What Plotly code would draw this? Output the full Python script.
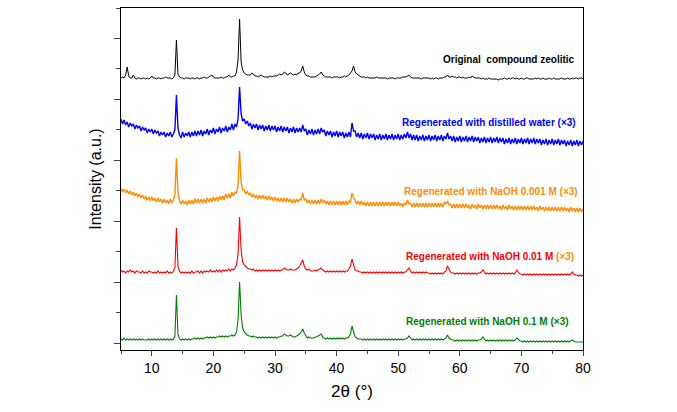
import numpy as np
import plotly.graph_objects as go

# 2-theta grid (degrees), 0.25 deg step from 5 to 80
two_theta = np.round(np.arange(5, 80.001, 0.25), 2)

# Stacked intensities (a.u.), one row per degree: x.00, x.25, x.50, x.75
original = [
 272,273,272,275, 283,274,272,272, 275,272,271,272, 272,271,272,272, 271,272,271,272,
 274,272,272,271, 272,272,271,272, 272,273,272,272, 272,271,272,275, 310,276,273,272,
 272,271,272,272, 272,271,272,272, 271,272,272,271, 272,272,273,272, 272,273,274,275,
 273,272,272,272, 272,273,272,272, 273,273,275,273, 273,274,274,278, 290,331,288,280,
 277,276,275,275, 275,277,276,274, 274,273,274,275, 274,273,273,273, 273,274,273,274,
 274,274,275,276, 275,276,278,277, 275,276,277,276, 275,276,275,277, 277,279,284,278,
 275,274,274,273, 273,273,273,274, 275,276,278,275, 274,273,273,273, 273,272,273,273,
 273,273,272,273, 273,274,273,274, 275,277,279,284, 278,276,275,274, 273,273,273,272,
 273,272,272,272, 272,272,273,272, 272,272,272,272, 272,271,272,272, 272,272,271,272,
 272,272,272,273, 273,273,274,275, 273,272,272,272, 272,272,272,271, 272,272,272,272,
 272,271,272,271, 272,272,271,272, 272,272,273,273, 275,273,273,274, 273,273,272,273,
 273,272,273,272, 272,272,273,272, 274,273,272,272, 272,272,271,272, 271,271,271,272,
 271,271,271,271, 271,270,271,271, 271,272,271,271, 272,271,272,272, 271,272,271,271,
 272,271,271,272, 272,271,271,271, 271,272,271,272, 271,271,272,271, 271,271,272,271,
 271,272,271,271, 271,271,272,271, 271,271,272,271, 271,272,271,272, 272,271,272,272,
 271]

distilled_water = [
 231,226,230,225, 228,223,227,224, 226,221,225,222, 224,219,223,220, 222,217,221,218,
 221,216,220,217, 219,214,218,215, 218,213,217,214, 218,213,216,220, 255,222,215,212,
 218,213,217,214, 218,213,218,214, 219,214,219,215, 220,214,219,216, 221,215,220,217,
 222,216,221,218, 223,217,222,219, 224,218,223,220, 226,220,226,223, 231,263,236,229,
 231,226,229,224, 227,221,226,222, 226,220,225,221, 225,219,224,220, 225,219,224,220,
 224,218,223,219, 224,218,223,219, 223,217,222,218, 223,217,222,218, 222,218,225,219,
 221,215,220,216, 221,215,220,216, 221,216,222,218, 220,214,219,215, 219,213,218,214,
 219,213,218,214, 218,212,217,213, 218,213,227,219, 219,213,217,212, 217,211,216,212,
 217,211,216,212, 216,210,215,211, 216,210,215,211, 216,210,215,211, 216,210,215,211,
 216,210,215,211, 216,212,218,212, 216,210,215,210, 215,209,214,210, 215,209,214,210,
 215,209,214,210, 215,209,214,210, 215,209,214,211, 217,211,214,209, 214,208,213,209,
 214,208,213,209, 214,208,213,209, 214,208,213,209, 213,207,212,208, 213,207,212,208,
 213,207,212,208, 213,207,212,208, 212,206,211,207, 212,206,211,207, 212,206,211,207,
 212,206,211,207, 212,206,211,207, 212,206,211,207, 211,205,210,206, 211,205,210,206,
 211,205,210,206, 211,205,210,206, 210,204,209,205, 210,204,209,205, 210,204,209,205,
 209]

naoh_0001 = [
 162,158,161,157, 160,156,159,155, 158,154,157,153, 156,152,155,151, 154,150,153,149,
 153,149,152,148, 152,148,151,147, 151,147,150,146, 151,147,150,155, 192,158,149,146,
 150,146,149,145, 150,146,150,146, 151,147,151,147, 151,147,151,147, 152,148,152,148,
 153,149,153,149, 154,150,154,150, 156,152,156,152, 158,154,158,157, 165,199,168,160,
 160,156,159,155, 157,153,156,152, 155,151,155,151, 155,151,154,150, 154,150,153,149,
 153,149,152,148, 152,148,152,148, 152,148,151,147, 151,147,151,148, 151,150,157,150,
 151,147,150,146, 150,146,150,146, 150,146,151,147, 150,146,149,145, 149,145,149,145,
 149,145,149,145, 149,145,149,145, 149,148,157,152, 150,146,149,145, 149,145,148,144,
 148,144,148,144, 148,144,148,144, 148,144,148,144, 148,144,148,144, 148,144,148,144,
 148,144,147,143, 147,145,150,146, 147,143,147,143, 147,143,147,143, 147,143,147,143,
 147,143,147,143, 147,143,147,143, 147,143,148,146, 149,145,146,142, 146,142,146,142,
 146,142,146,142, 146,142,145,141, 146,142,145,141, 146,142,145,141, 145,141,145,141,
 145,141,145,141, 145,141,144,140, 145,141,144,140, 145,141,144,140, 144,140,144,140,
 144,140,144,140, 144,140,144,140, 144,140,143,139, 144,140,143,139, 143,139,143,139,
 143,139,143,139, 143,139,143,139, 143,139,142,138, 143,139,142,138, 142,138,142,138,
 141]

naoh_001 = [
 80,78,79,77, 79,78,80,78, 79,77,79,78, 78,77,79,77, 78,77,79,78,
 78,77,78,77, 79,77,78,77, 78,77,79,77, 78,77,79,82, 122,84,79,77,
 78,77,78,77, 78,77,79,77, 78,78,79,77, 79,77,79,78, 79,78,80,78,
 79,78,80,78, 80,78,80,79, 80,79,81,79, 81,80,82,85, 96,133,100,88,
 85,83,82,81, 81,80,81,79, 80,79,80,79, 80,79,80,79, 80,79,80,79,
 80,79,80,79, 80,80,82,81, 80,80,81,80, 80,80,81,82, 84,87,90,84,
 81,80,81,79, 79,79,80,79, 80,81,82,80, 79,78,79,78, 79,78,79,78,
 79,78,79,78, 79,78,79,79, 81,84,91,84, 80,79,79,78, 78,77,78,77,
 78,77,78,77, 78,77,78,77, 78,77,78,77, 78,77,78,77, 78,77,78,77,
 78,77,78,77, 78,78,80,82, 79,77,78,77, 78,77,78,77, 78,77,78,77,
 77,76,77,76, 77,76,77,76, 77,76,78,79, 84,80,78,77, 77,76,77,76,
 77,76,77,76, 77,76,77,76, 77,76,77,76, 77,77,78,80, 78,76,77,76,
 77,76,77,76, 77,76,77,76, 77,76,77,76, 77,76,77,76, 77,80,78,76,
 76,75,76,75, 76,75,76,75, 76,75,76,75, 76,75,76,75, 76,75,76,75,
 76,75,76,75, 76,75,76,75, 76,75,76,75, 76,78,76,75, 75,74,75,74,
 75]

naoh_01 = [
 11,10,12,10, 11,10,11,10, 11,10,11,10, 11,10,11,10, 10,10,11,10,
 11,10,11,10, 11,10,11,10, 11,10,11,10, 11,10,11,14, 55,16,11,10,
 11,10,11,10, 11,10,11,11, 12,11,12,11, 12,11,12,12, 13,12,13,12,
 13,12,13,13, 14,13,14,13, 14,13,14,14, 15,14,15,18, 30,68,35,22,
 18,16,15,14, 14,13,14,13, 13,12,13,12, 13,12,13,12, 13,12,13,12,
 13,12,13,13, 14,14,16,15, 14,14,15,14, 13,13,14,15, 16,18,21,17,
 14,12,13,12, 12,12,13,13, 14,15,16,13, 12,11,12,11, 12,11,12,11,
 12,11,12,11, 12,11,12,12, 13,16,24,18, 13,12,11,11, 11,10,11,10,
 11,10,11,10, 11,10,11,10, 11,10,11,10, 11,10,11,10, 11,10,11,10,
 11,10,11,10, 11,11,12,14, 12,10,11,10, 11,10,11,10, 11,10,11,10,
 11,10,11,10, 11,10,11,10, 11,10,11,12, 15,12,11,10, 10,9,10,9,
 10,9,10,9, 10,9,10,9, 10,9,10,9, 10,10,11,13, 11,9,10,9,
 10,9,10,9, 10,9,10,9, 10,9,10,9, 10,9,10,9, 10,12,11,9,
 9,8,9,8, 9,8,9,8, 9,8,9,8, 9,8,9,8, 9,8,9,8,
 9,8,9,8, 9,8,9,8, 9,8,9,8, 9,10,9,8, 8,8,8,8,
 8]

series = [original, distilled_water, naoh_0001, naoh_001, naoh_01]
colors = ["#000000", "#0000FF", "#FF8C00", "#FF0000", "#008000"]
widths = [1, 1.4, 1.4, 1.1, 1.1]
labels = [
    "Original  compound zeolitic",
    "Regenerated with distilled water (×3)",
    "Regenerated with NaOH 0.001 M (×3)",
    "Regenerated with NaOH 0.01 M <span style='color:#FF8C00'>(×3)</span>",
    "Regenerated with NaOH 0.1 M (×3)",
]
label_pos = [(0.987, 0.848), (0.989, 0.664), (0.993, 0.462), (0.984, 0.272), (0.974, 0.082)]

fig = go.Figure()
for ys, c, w in zip(series, colors, widths):
    fig.add_trace(go.Scatter(x=two_theta, y=ys, mode="lines",
                             line=dict(color=c, width=w), showlegend=False))

for text, c, (px, py) in zip(labels, colors, label_pos):
    fig.add_annotation(text="<b>" + text + "</b>", x=px, y=py, xref="paper", yref="paper",
                       xanchor="right", yanchor="middle", showarrow=False,
                       font=dict(family="Liberation Sans, Arial", size=10, color=c))

fig.update_layout(
    width=677, height=412,
    margin=dict(l=121, r=94, t=8, b=62),
    paper_bgcolor="white", plot_bgcolor="white",
    font=dict(family="Liberation Sans, Arial", color="#000000"),
)
fig.update_xaxes(
    range=[5, 80], tick0=0, dtick=10, ticks="outside", ticklen=5, tickwidth=1,
    minor=dict(dtick=5, tick0=0, ticks="outside", ticklen=3, tickwidth=1, showgrid=False),
    showline=True, linecolor="black", linewidth=1.2, mirror=True, showgrid=False, zeroline=False,
    tickfont=dict(size=14), title=dict(text="2θ (°)", font=dict(size=17), standoff=10),
)
fig.update_yaxes(
    range=[0, 342], tick0=7, dtick=60.9, ticks="outside", ticklen=6, tickwidth=1,
    minor=dict(dtick=30.45, tick0=7, ticks="outside", ticklen=4, tickwidth=1, showgrid=False),
    showticklabels=False,
    showline=True, linecolor="black", linewidth=1.2, mirror=True, showgrid=False, zeroline=False,
    title=dict(text="Intensity (a.u.)", font=dict(size=16), standoff=8),
)

fig.write_html("out.html")
